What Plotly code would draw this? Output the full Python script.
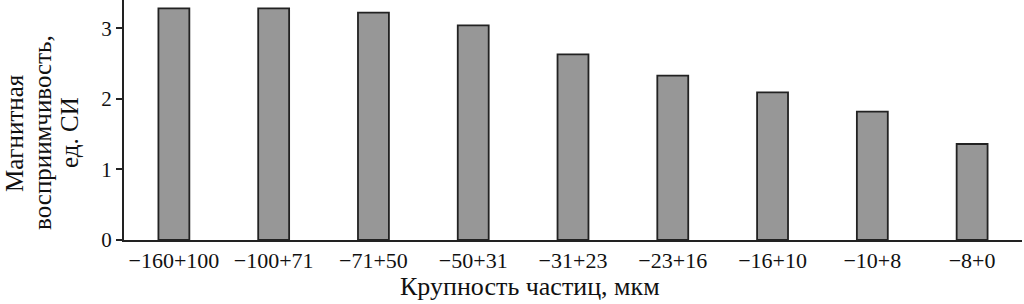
import plotly.graph_objects as go

categories = ["−160+100", "−100+71", "−71+50", "−50+31", "−31+23", "−23+16", "−16+10", "−10+8", "−8+0"]
values = [3.28, 3.28, 3.22, 3.04, 2.63, 2.33, 2.09, 1.82, 1.36]
y_ticks = [0, 1, 2, 3]
y_title_lines = ["Магнитная", "восприимчивость,", "ед. СИ"]
x_title = "Крупность частиц, мкм"

FONT = "Liberation Serif"

fig = go.Figure(go.Bar(
    x=categories, y=values,
    marker=dict(color="#979797", line=dict(color="#222222", width=1.8)),
    width=0.31,
))

fig.update_layout(
    width=1024, height=304,
    margin=dict(l=124, r=2, t=0, b=64),
    plot_bgcolor="white", paper_bgcolor="white",
    font=dict(family=FONT, size=22, color="#111111"),
    showlegend=False,
)
fig.update_xaxes(
    showline=True, linecolor="#222222", linewidth=2,
    ticks="", tickfont=dict(size=22),
)
fig.update_yaxes(
    range=[0, 3.4], tickvals=y_ticks,
    showline=True, linecolor="#222222", linewidth=2,
    ticks="outside", ticklen=6, tickcolor="#222222", tickwidth=1.5,
    showgrid=False, zeroline=False,
    tickfont=dict(size=21),
)

xshifts = [-109, -81, -54]
for line, xs in zip(y_title_lines, xshifts):
    fig.add_annotation(
        text=line, xref="paper", yref="paper", x=0, y=0.446,
        xanchor="center", yanchor="middle", xshift=xs,
        textangle=-90, showarrow=False, font=dict(size=25),
    )

fig.add_annotation(
    text=x_title, xref="paper", yref="paper", x=0.452, y=0,
    xanchor="center", yanchor="middle", yshift=-46,
    showarrow=False, font=dict(size=26),
)

fig.write_html("out.html")
